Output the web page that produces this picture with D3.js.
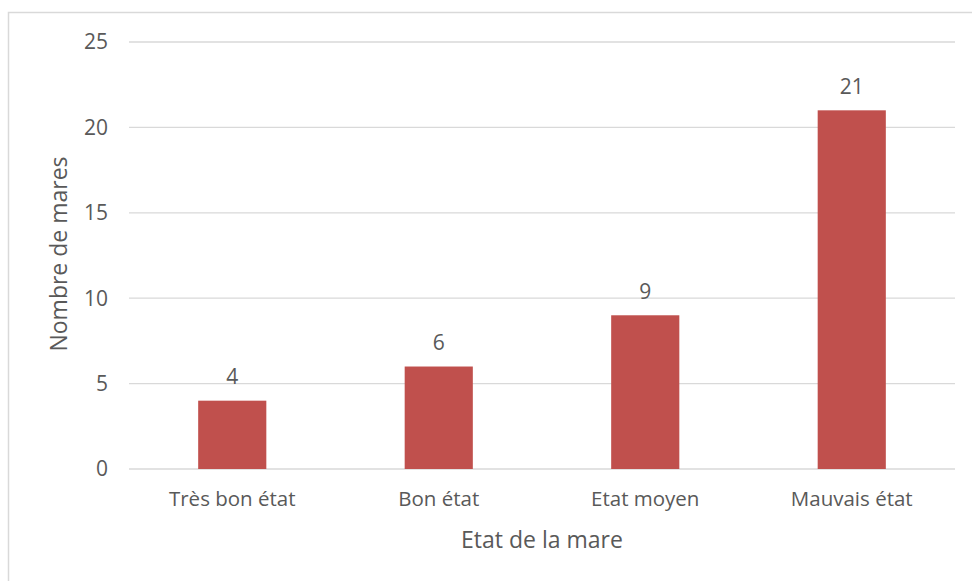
<!DOCTYPE html>
<html>
<head>
<meta charset="utf-8">
<script src="https://cdn.jsdelivr.net/npm/d3@7"></script>
<style>
  body { margin: 0; background: #fff; }
  text { font-family: "Open Sans", "Noto Sans", sans-serif; fill: #595959; }
</style>
</head>
<body>
<div id="container"></div>
<script>
const categories = ["Très bon état", "Bon état", "Etat moyen", "Mauvais état"]
const counts = [4, 6, 9, 21]
const yTicks = [0, 5, 10, 15, 20, 25]

const width = 972
const height = 581
const margin = { top: 42, right: 17, bottom: 112, left: 129 }

const svg = d3.select("#container").append("svg")
    .attr("width", width)
    .attr("height", height)

// chart frame (extends past right/bottom edge)
svg.append("rect")
    .attr("x", 8.5)
    .attr("y", 12.5)
    .attr("width", width)
    .attr("height", height)
    .attr("fill", "none")
    .attr("stroke", "#d9d9d9")
    .attr("stroke-width", 1.5)

const x = d3.scaleBand()
    .domain(categories)
    .range([margin.left, width - margin.right])
    .paddingInner(0.67)
    .paddingOuter(0.335)

const y = d3.scaleLinear()
    .domain([0, 25])
    .range([height - margin.bottom, margin.top])

// gridlines
svg.append("g")
    .selectAll("line")
    .data(yTicks)
    .enter().append("line")
    .attr("x1", margin.left)
    .attr("x2", width - margin.right)
    .attr("y1", d => y(d))
    .attr("y2", d => y(d))
    .attr("stroke", "#d9d9d9")
    .attr("stroke-width", 1.3)

svg.append("g")
    .selectAll("text")
    .data(yTicks)
    .enter().append("text")
    .attr("x", 108)
    .attr("y", d => y(d))
    .attr("dy", "0.35em")
    .attr("text-anchor", "end")
    .style("font-size", "21px")
    .text(d => d)

svg.append("g")
    .selectAll("rect")
    .data(counts)
    .enter().append("rect")
    .attr("x", (d, i) => x(categories[i]))
    .attr("y", d => y(d))
    .attr("width", x.bandwidth())
    .attr("height", d => y(0) - y(d))
    .attr("fill", "#c0504d")

svg.append("g")
    .selectAll("text")
    .data(counts)
    .enter().append("text")
    .attr("x", (d, i) => x(categories[i]) + x.bandwidth() / 2)
    .attr("y", d => y(d) - 24)
    .attr("dy", "0.35em")
    .attr("text-anchor", "middle")
    .style("font-size", "21px")
    .text(d => d)

svg.append("g")
    .selectAll("text")
    .data(categories)
    .enter().append("text")
    .attr("x", d => x(d) + x.bandwidth() / 2)
    .attr("y", 499)
    .attr("dy", "0.35em")
    .attr("text-anchor", "middle")
    .style("font-size", "20.5px")
    .text(d => d)

svg.append("text")
    .attr("x", 542)
    .attr("y", 540)
    .attr("dy", "0.35em")
    .attr("text-anchor", "middle")
    .style("font-size", "23px")
    .text("Etat de la mare")

svg.append("text")
    .attr("transform", "translate(59,254) rotate(-90)")
    .attr("dy", "0.35em")
    .attr("text-anchor", "middle")
    .style("font-size", "23px")
    .text("Nombre de mares")
</script>
</body>
</html>
